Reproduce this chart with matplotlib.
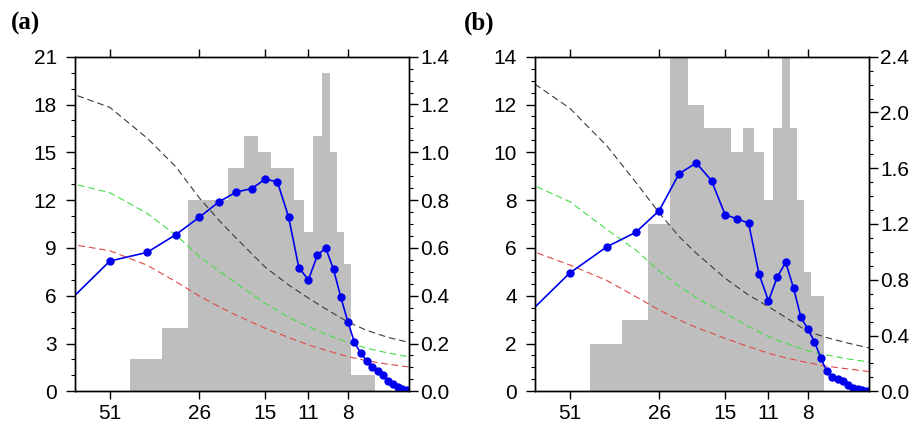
import matplotlib.pyplot as plt
from matplotlib.ticker import MultipleLocator, FixedLocator, NullLocator
import numpy as np

plt.rcParams['font.family'] = ['Liberation Sans', 'DejaVu Sans']

n_len = 153  # record length, period = n_len / k

# histogram counts (left axis), harmonics 4..
bar_k_a = np.arange(4, 24)
hist_a = [2, 4, 12, 12, 14, 16, 15, 14, 14, 12, 10, 16, 20, 15, 10, 8, 1, 1, 1, 1]
bar_k_b = np.arange(4, 22)
hist_b = [2, 3, 7, 16, 12, 11, 11, 10, 11, 10, 8, 11, 16, 11, 8, 5, 4, 4]

# spectrum (right axis), harmonics 2..30
spec_k = np.arange(2, 31)
spec_a = [0.33, 0.545, 0.581, 0.655, 0.728, 0.793, 0.834, 0.848, 0.887, 0.877,
          0.729, 0.516, 0.467, 0.569, 0.600, 0.510, 0.393, 0.291, 0.205, 0.159,
          0.128, 0.103, 0.086, 0.067, 0.043, 0.029, 0.019, 0.011, 0.005]
spec_b = [0.482, 0.849, 1.037, 1.140, 1.296, 1.561, 1.638, 1.511, 1.267, 1.236,
          1.207, 0.844, 0.648, 0.822, 0.925, 0.741, 0.533, 0.445, 0.356, 0.240,
          0.143, 0.101, 0.091, 0.074, 0.043, 0.024, 0.017, 0.012, 0.004]

# red noise and confidence curves
ref_k = np.array([2, 3, 4, 5, 6, 7, 8, 10, 12, 14, 16, 19, 22, 26, 31])
red_a = [0.625, 0.588, 0.528, 0.459, 0.399, 0.354, 0.318, 0.264, 0.225, 0.194, 0.172, 0.145, 0.128, 0.113, 0.101]
green_a = [0.884, 0.831, 0.745, 0.654, 0.565, 0.503, 0.452, 0.368, 0.31, 0.27, 0.238, 0.205, 0.18, 0.16, 0.143]
black_a = [1.267, 1.188, 1.06, 0.94, 0.81, 0.715, 0.64, 0.52, 0.445, 0.39, 0.345, 0.29, 0.255, 0.225, 0.203]
red_b = [1.044, 0.906, 0.795, 0.679, 0.583, 0.512, 0.458, 0.38, 0.32, 0.273, 0.24, 0.205, 0.18, 0.16, 0.14]
green_b = [1.53, 1.36, 1.16, 1.014, 0.862, 0.755, 0.67, 0.56, 0.465, 0.392, 0.345, 0.29, 0.26, 0.232, 0.208]
black_b = [2.29, 2.03, 1.76, 1.50, 1.28, 1.11, 0.99, 0.811, 0.69, 0.607, 0.53, 0.428, 0.385, 0.345, 0.308]

tick_k = [3, 6, 10, 14, 19]
tick_labels = ['51', '26', '15', '11', '8']


def draw_panel(rect, bar_k, hist, spec, red, green, black,
               lmax, lstep, lminor, rmax, rstep, rminor, label, lab_x):
    ax = fig.add_axes(rect)
    ax.bar((bar_k - 0.5) / n_len, hist, width=1.0 / n_len, align='edge',
           color='#bebebe', linewidth=0, zorder=1)
    ax.set_xscale('log')
    ax.set_xlim(0.015, 0.2)
    ax.set_ylim(0, lmax)
    ax.xaxis.set_major_locator(FixedLocator(np.array(tick_k) / n_len))
    ax.xaxis.set_minor_locator(NullLocator())
    ax.set_xticklabels(tick_labels)
    ax.yaxis.set_major_locator(MultipleLocator(lstep))
    ax.yaxis.set_minor_locator(MultipleLocator(lminor))
    ax.tick_params(axis='x', which='major', direction='out', top=True, bottom=True,
                   labeltop=False, length=6, width=1, labelsize=15, pad=3)
    ax.tick_params(axis='y', which='major', direction='out', length=6.3, width=1,
                   labelsize=15, pad=7)
    ax.tick_params(axis='y', which='minor', direction='out', length=2.7, width=0.8)
    for s in ax.spines.values():
        s.set_linewidth(1.0)

    ax2 = ax.twinx()
    dash = dict(linewidth=0.8, dashes=(6, 3.5))
    ax2.plot(ref_k / n_len, red, color='#e04848', **dash)
    ax2.plot(ref_k / n_len, green, color='#44dd44', **dash)
    ax2.plot(ref_k / n_len, black, color='#3a3a3a', **dash)
    ax2.plot(spec_k / n_len, spec, color='#0000ee', linewidth=1.2,
             marker='o', markersize=6, markeredgewidth=0)
    ax2.set_ylim(0, rmax)
    ax2.yaxis.set_major_locator(MultipleLocator(rstep))
    ax2.yaxis.set_minor_locator(MultipleLocator(rminor))
    ax2.yaxis.set_major_formatter(lambda v, p: f'{v:.1f}')
    ax2.tick_params(axis='y', which='major', direction='out', length=6.3, width=1,
                    labelsize=15, pad=1.5)
    ax2.tick_params(axis='y', which='minor', direction='out', length=2.7, width=0.8)
    for s in ax2.spines.values():
        s.set_linewidth(1.0)

    fig.text(lab_x, 1 - 23 / 430, label, family='Liberation Serif',
             weight='bold', size=18, va='center', ha='left')


fig = plt.figure(figsize=(9.21, 4.30), dpi=100)
bot = 38.7 / 430
hgt = 334.6 / 430
draw_panel([75.3 / 921, bot, 334 / 921, hgt], bar_k_a, hist_a, spec_a,
           red_a, green_a, black_a, 21, 3, 1, 1.4, 0.2, 0.05, '(a)', 11 / 921)
draw_panel([535.3 / 921, bot, 334 / 921, hgt], bar_k_b, hist_b, spec_b,
           red_b, green_b, black_b, 14, 2, 0.5, 2.4, 0.4, 0.1, '(b)', 464 / 921)

fig.savefig('out.png', dpi=100)
